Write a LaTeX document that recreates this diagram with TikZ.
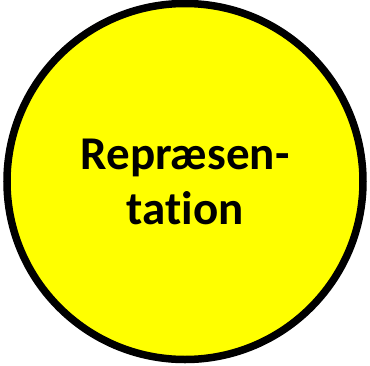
\documentclass[tikz,border=0pt]{standalone}
\usepackage{fontspec}
\setmainfont[Ligatures=NoCommon]{Carlito}
\definecolor{circfill}{RGB}{255,255,0}
\begin{document}
\begin{tikzpicture}[x=1pt,y=-1pt,
  blob/.style={circle,draw=black,fill=circfill,line width=7.5pt,minimum size=356pt,inner sep=0pt},
  lbl/.style={align=center,font=\fontsize{47}{55}\selectfont\bfseries}]
\useasboundingbox (0,0) rectangle (370,365);
\node[blob] (c) at (185,181.5) {};
\node[lbl] (t) at (185,182) {Repræsen-\\tation};
\end{tikzpicture}
\end{document}
